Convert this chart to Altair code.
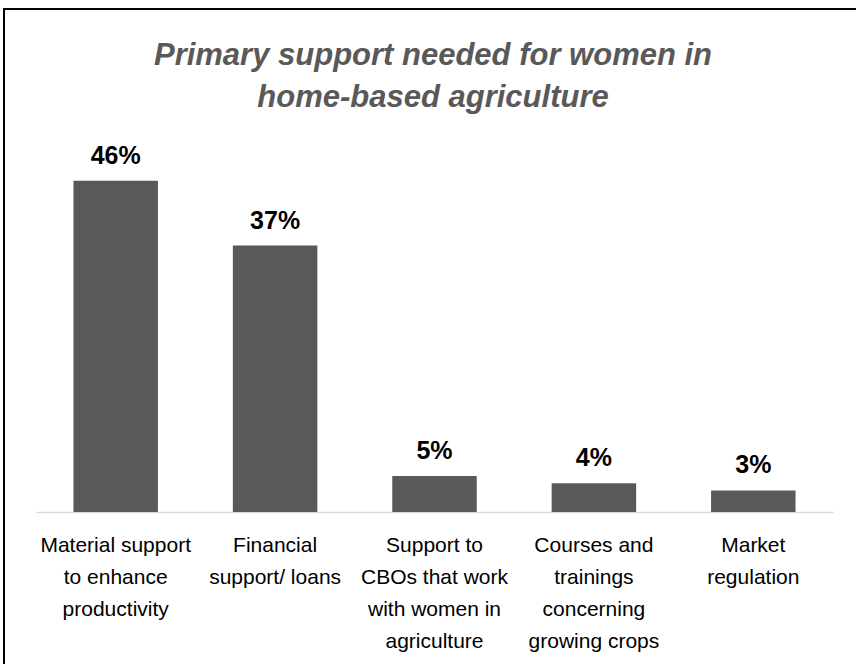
import altair as alt
import pandas as pd

categories = [
    "Material support|to enhance|productivity",
    "Financial|support/ loans",
    "Support to|CBOs that work|with women in|agriculture",
    "Courses and|trainings|concerning|growing crops",
    "Market|regulation",
]
values = [46, 37, 5, 4, 3]
labels = ["46%", "37%", "5%", "4%", "3%"]
title_lines = ["Primary support needed for women in", "home-based agriculture"]
title_y = [-87, -45]

df = pd.DataFrame({"cat": categories, "value": values, "label": labels})
tdf = pd.DataFrame({"t": title_lines, "ty": title_y})

FONT = "Liberation Sans, Arial, sans-serif"

x = alt.X("cat:N", sort=categories, title=None,
          scale=alt.Scale(paddingInner=0.47, paddingOuter=0.235),
          axis=alt.Axis(labelAngle=0, ticks=False, domainColor="#d9d9d9", domainWidth=1.5,
                        labelExpr="split(datum.label, '|')", labelFontSize=21,
                        labelColor="#000000", labelFont=FONT, labelLineHeight=32,
                        labelPadding=22, labelLimit=200, labelBaseline="top"))
y = alt.Y("value:Q", scale=alt.Scale(domain=[0, 50]), axis=None)

bars = alt.Chart(df).mark_bar(color="#595959").encode(x=x, y=y)
text = alt.Chart(df).mark_text(dy=-12, baseline="bottom", fontSize=25, fontWeight="bold",
                               font=FONT, color="#000000").encode(x=x, y=y, text="label:N")

title = alt.Chart(tdf).mark_text(fontSize=31, fontStyle="italic", fontWeight="bold",
                                 color="#595959", font=FONT, baseline="alphabetic",
                                 align="center").encode(
    x=alt.value(397), y=alt.Y("ty:Q", scale=None), text="t:N")

frame = alt.Chart(df).mark_rect(fill=None, stroke="#000000", strokeWidth=2).encode(
    x=alt.value(-32), x2=alt.value(840), y=alt.value(-143), y2=alt.value(530))

chart = alt.layer(frame, bars, text, title).properties(
    width=797, height=360,
    autosize=alt.AutoSizeParams(type="none"),
    padding={"left": 36, "top": 152, "right": 23, "bottom": 152},
    background="#ffffff",
).configure_view(stroke=None)

chart.save("out.html", embed_options={"renderer": "svg", "actions": False})
